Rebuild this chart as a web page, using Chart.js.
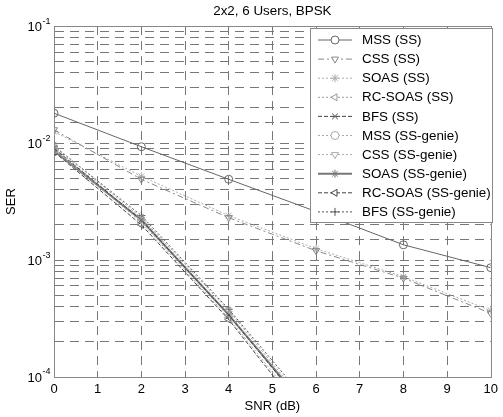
<!DOCTYPE html>
<html>
<head>
<meta charset="utf-8">
<script src="https://cdn.jsdelivr.net/npm/chart.js@4.4.1/dist/chart.umd.min.js"></script>
<style>
  html, body { margin: 0; padding: 0; background: #fff; }
</style>
</head>
<body>
<canvas id="serChart" width="503" height="417"></canvas>
<script>
// SER vs SNR, 2x2 MIMO, 6 users, BPSK
const snr = [0, 2, 4, 6, 8, 10];
const decades = [1e-1, 1e-2, 1e-3, 1e-4];
const decadeExp = ['-1', '-2', '-3', '-4'];

const seriesNames = [
  'MSS (SS)', 'CSS (SS)', 'SOAS (SS)', 'RC-SOAS (SS)', 'BFS (SS)',
  'MSS (SS-genie)', 'CSS (SS-genie)', 'SOAS (SS-genie)', 'RC-SOAS (SS-genie)', 'BFS (SS-genie)'
];

// null = below 1e-4, off the plot
const mssSS      = [0.018, 0.0093, 0.0049, 0.0026, 0.00135, 0.00086];
const cssSS      = [0.013, 0.0049, 0.0023, 0.0012, 0.00070, 0.00035];
const soasSS     = [0.0125, 0.0052, 0.0024, 0.00125, 0.00072, 0.00037];
const rcsoasSS   = [0.0095, 0.0023, 0.00037, 0.000046, null, null];
const bfsSS      = [0.0090, 0.0022, 0.00034, 0.000042, null, null];
const mssGenie   = [0.0088, 0.0021, 0.00032, 0.000038, null, null];
const cssGenie   = [0.0092, 0.0022, 0.00035, 0.000040, null, null];
const soasGenie  = [0.0086, 0.0022, 0.00034, 0.000044, null, null];
const rcsoasGenie = [0.0084, 0.0020, 0.00031, 0.000035, null, null];
const bfsGenie   = [0.0094, 0.0024, 0.00038, 0.000050, null, null];

const seriesValues = [mssSS, cssSS, soasSS, rcsoasSS, bfsSS,
  mssGenie, cssGenie, soasGenie, rcsoasGenie, bfsGenie];

// line look per curve (grayscale print)
const looks = [
  { color: '#666', width: 1, dash: [], marker: 'circle', rot: 0 },
  { color: '#888', width: 1, dash: [6, 3, 2, 3], marker: 'triangle', rot: 180 },
  { color: '#aaa', width: 1, dash: [2, 2], marker: 'star', rot: 0 },
  { color: '#999', width: 1, dash: [2, 2], marker: 'triangle', rot: -90 },
  { color: '#444', width: 1, dash: [4, 2], marker: 'crossRot', rot: 0 },
  { color: '#aaa', width: 1, dash: [2, 2], marker: 'circle', rot: 0 },
  { color: '#aaa', width: 1, dash: [2, 2], marker: 'triangle', rot: 180 },
  { color: '#777', width: 2, dash: [], marker: 'star', rot: 0 },
  { color: '#444', width: 1, dash: [4, 2], marker: 'triangle', rot: -90 },
  { color: '#555', width: 1, dash: [2, 2], marker: 'cross', rot: 0 }
];

const FONT = 'Liberation Sans, Arial, sans-serif';

const datasets = seriesNames.map((name, i) => ({
  label: name,
  data: snr.map((x, k) => ({ x: x, y: seriesValues[i][k] })),
  borderColor: looks[i].color,
  borderWidth: looks[i].width,
  borderDash: looks[i].dash,
  pointStyle: looks[i].marker,
  rotation: looks[i].rot,
  pointRadius: 4,
  pointBorderWidth: 1,
  pointBorderColor: looks[i].color,
  pointBackgroundColor: 'rgba(0,0,0,0)',
  tension: 0,
  fill: false
}));

const edgeless = (ctx) => {
  const n = ctx.scale.ticks.length;
  return (ctx.index === 0 || ctx.index === n - 1) ? 'rgba(0,0,0,0)' : '#777';
};

// box round the plot area, "10^k" y labels, and the legend
const framePlugin = {
  id: 'frame',
  beforeDatasetsDraw(chart) {
    const { ctx, chartArea: a } = chart;
    ctx.save();
    ctx.strokeStyle = '#888';
    ctx.lineWidth = 1;
    ctx.strokeRect(Math.round(a.left) + 0.5, Math.round(a.top) + 0.5,
      Math.round(a.right - a.left), Math.round(a.bottom - a.top));
    ctx.restore();
  },
  afterDraw(chart) {
    const { ctx } = chart;
    const y = chart.scales.y;
    ctx.save();
    ctx.fillStyle = '#000';
    decades.forEach((v, i) => {
      const py = y.getPixelForValue(v);
      ctx.font = '13px ' + FONT;
      ctx.textAlign = 'right';
      ctx.textBaseline = 'middle';
      ctx.fillText('10', 42, py + 1);
      ctx.font = '9px ' + FONT;
      ctx.textAlign = 'left';
      ctx.fillText(decadeExp[i], 42.5, py - 5);
    });

    // legend
    const bx = 310, by = 28, bw = 182, bh = 194;
    ctx.fillStyle = '#fff';
    ctx.fillRect(bx, by, bw, bh);
    ctx.strokeStyle = '#888';
    ctx.lineWidth = 1;
    ctx.strokeRect(bx + 0.5, by + 0.5, bw, bh);
    chart.data.datasets.forEach((ds, i) => {
      const ly = by + 12 + i * 19.1;
      ctx.save();
      ctx.strokeStyle = ds.borderColor;
      ctx.lineWidth = ds.borderWidth;
      ctx.setLineDash(ds.borderDash);
      ctx.beginPath();
      ctx.moveTo(318, ly);
      ctx.lineTo(352, ly);
      ctx.stroke();
      ctx.setLineDash([]);
      ctx.lineWidth = 1;
      ctx.fillStyle = '#fff';
      Chart.helpers.drawPoint(ctx, {
        pointStyle: ds.pointStyle, rotation: ds.rotation, radius: 4, borderWidth: 1
      }, 335, ly);
      ctx.restore();
      ctx.fillStyle = '#000';
      ctx.font = '13.4px ' + FONT;
      ctx.textAlign = 'left';
      ctx.textBaseline = 'middle';
      ctx.fillText(ds.label, 362, ly + 0.5);
    });
    ctx.restore();
  }
};

new Chart(document.getElementById('serChart'), {
  type: 'line',
  data: { datasets: datasets },
  options: {
    responsive: false,
    devicePixelRatio: 1,
    animation: false,
    layout: { padding: { left: 0, right: 6, top: 0, bottom: 0 } },
    plugins: {
      legend: { display: false },
      tooltip: { enabled: false },
      title: {
        display: true,
        fullSize: false,
        text: '2x2, 6 Users, BPSK',
        color: '#000',
        font: { family: FONT, size: 13.4, weight: 'normal' },
        padding: { top: 3, bottom: 7 }
      }
    },
    scales: {
      x: {
        type: 'linear',
        min: 0,
        max: 10,
        afterFit(s) { s.height = 40; },
        ticks: { stepSize: 1, color: '#000', padding: 5, font: { family: FONT, size: 13 } },
        grid: { color: edgeless, drawTicks: false, lineWidth: 1 },
        border: { color: '#888', width: 1, dash: [9, 6] },
        title: { display: true, text: 'SNR (dB)', color: '#000',
          font: { family: FONT, size: 13 }, padding: { top: 0, bottom: 3 } }
      },
      y: {
        type: 'logarithmic',
        min: 1e-4,
        max: 1e-1,
        afterFit(s) { s.width = 54; },
        ticks: { display: false, autoSkip: false },
        grid: { color: edgeless, drawTicks: false, lineWidth: 1 },
        border: { color: '#888', width: 1, dash: [9, 6] },
        title: { display: true, text: 'SER', color: '#000',
          font: { family: FONT, size: 13 }, padding: { top: 4, bottom: 0 } }
      }
    }
  },
  plugins: [framePlugin]
});
</script>
</body>
</html>
